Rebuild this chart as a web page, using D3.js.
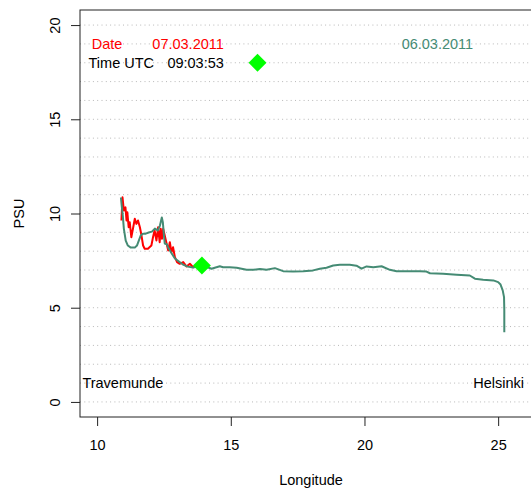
<!DOCTYPE html>
<html>
<head>
<meta charset="utf-8">
<script src="https://cdn.jsdelivr.net/npm/d3@7"></script>
<style>
  body { margin: 0; background: #fff; }
  text { font-family: "Liberation Sans", Arial, Helvetica, sans-serif; }
</style>
</head>
<body>
<svg width="531" height="490"></svg>
<script>
// salinity track, 06.03.2011 (full crossing Travemunde -> Helsinki)
let lonGreen = [10.89, 10.92, 10.96, 11.00, 11.07, 11.15, 11.26, 11.41, 11.49, 11.56, 11.63, 11.71,
  11.82, 11.93, 12.05, 12.16, 12.27, 12.35, 12.42, 12.46, 12.50, 12.53, 12.61, 12.68, 12.79, 12.91,
  13.06, 13.21, 13.39, 13.58, 13.77, 13.95, 14.28, 14.40, 14.59, 14.71, 14.96, 15.22, 15.59, 15.84,
  16.09, 16.34, 16.65, 16.96, 17.33, 17.71, 18.08, 18.33, 18.58, 18.83, 19.08, 19.45, 19.70, 19.89,
  20.08, 20.33, 20.64, 20.95, 21.20, 21.58, 22.07, 22.32, 22.45, 22.94, 23.45, 23.94, 24.13, 24.44,
  24.82, 25.00, 25.09, 25.17, 25.22, 25.23, 25.23];
let psuGreen = [10.85, 10.42, 9.89, 9.20, 8.56, 8.30, 8.19, 8.19, 8.30, 8.56, 8.83, 8.93,
  8.93, 8.99, 9.04, 9.20, 9.10, 9.36, 9.79, 9.52, 8.83, 8.41, 8.36, 8.14, 7.88, 7.61,
  7.45, 7.29, 7.18, 7.13, 7.18, 7.24, 7.07, 7.12, 7.20, 7.15, 7.15, 7.12, 7.01, 7.01,
  7.05, 7.01, 7.10, 6.94, 6.92, 6.94, 6.98, 7.07, 7.12, 7.24, 7.28, 7.28, 7.23, 7.07,
  7.19, 7.15, 7.20, 7.01, 6.94, 6.94, 6.94, 6.92, 6.83, 6.80, 6.75, 6.71, 6.54, 6.48,
  6.45, 6.36, 6.23, 5.92, 5.56, 4.85, 3.70];

// salinity track, 07.03.2011 (up to current position)
let lonRed = [10.91, 10.95, 11.00, 11.06, 11.10, 11.13, 11.18, 11.22, 11.28, 11.34, 11.41, 11.47,
  11.53, 11.60, 11.66, 11.72, 11.78, 11.90, 12.03, 12.09, 12.15, 12.22, 12.28, 12.34, 12.38, 12.43,
  12.47, 12.53, 12.60, 12.66, 12.72, 12.78, 12.84, 12.91, 12.99, 13.09, 13.22, 13.34, 13.47, 13.59,
  13.72, 13.84];
let psuRed = [9.63, 10.86, 10.16, 10.33, 9.63, 10.07, 9.27, 9.54, 8.74, 9.19, 9.72, 9.45,
  9.63, 9.27, 8.83, 8.30, 8.13, 8.13, 8.30, 8.74, 9.10, 8.57, 9.27, 8.48, 9.19, 8.66,
  9.19, 8.83, 8.39, 8.04, 8.48, 7.95, 8.21, 7.68, 7.42, 7.33, 7.42, 7.19, 7.33, 7.15,
  7.19, 7.12];

let currentPos = [13.92, 7.24];
let legendPos = [16.0, 18.0];

let xTicks = [10, 15, 20, 25];
let yTicks = [0, 5, 10, 15, 20];
let gridLevels = [0, 1, 2, 3, 4, 5, 6, 7, 8, 9, 10, 11, 12, 13, 14, 15, 16, 17, 18, 19, 20];

let colGreen = "#458B74",
    colRed = "#ff0000",
    colMark = "#00ff00";

let svg = d3.select("svg");

let x = d3.scaleLinear().domain([9.36, 26.64]).range([80, 542]);
let y = d3.scaleLinear().domain([-0.8, 20.8]).range([417, 10]);

// dotted grid
svg.append("g")
    .selectAll("line")
    .data(gridLevels)
    .enter().append("line")
    .attr("x1", x(9.36)).attr("x2", x(26.64))
    .attr("y1", d => y(d)).attr("y2", d => y(d))
    .attr("stroke", "#b8b8b8")
    .attr("stroke-dasharray", "1,3.3");

// axes
let xAxis = svg.append("g")
    .attr("transform", "translate(0," + y(-0.8) + ")")
    .call(d3.axisBottom(x).tickValues(xTicks).tickSize(9).tickPadding(14));
xAxis.select(".domain").remove();
xAxis.selectAll("text").attr("font-size", "14.5px").attr("font-family", null).attr("fill", "#000");
xAxis.selectAll("line").attr("stroke", "#222");

let yAxis = svg.append("g")
    .attr("transform", "translate(" + x(9.36) + ",0)")
    .call(d3.axisLeft(y).tickValues(yTicks).tickSize(9));
yAxis.select(".domain").remove();
yAxis.selectAll("line").attr("stroke", "#222");
yAxis.selectAll("text")
    .attr("x", null).attr("dy", null)
    .attr("transform", "translate(-20,0) rotate(-90)")
    .attr("text-anchor", "middle")
    .attr("font-size", "14.5px").attr("font-family", null).attr("fill", "#000");

// box
svg.append("rect")
    .attr("x", x(9.36)).attr("y", y(20.8))
    .attr("width", x(26.64) - x(9.36)).attr("height", y(-0.8) - y(20.8))
    .attr("fill", "none").attr("stroke", "#222");

// axis titles
svg.append("text")
    .attr("x", (x(9.36) + x(26.64)) / 2).attr("y", 485)
    .attr("text-anchor", "middle").attr("font-size", "14.5px")
    .text("Longitude");
svg.append("text")
    .attr("transform", "translate(23.5," + (y(-0.8) + y(20.8)) / 2 + ") rotate(-90)")
    .attr("text-anchor", "middle").attr("font-size", "14.5px")
    .text("PSU");

// tracks
let line = d3.line()
    .x(d => x(d[0]))
    .y(d => y(d[1]));

svg.append("path")
    .datum(d3.zip(lonRed, psuRed))
    .attr("d", line)
    .attr("fill", "none").attr("stroke", colRed).attr("stroke-width", 2)
    .attr("stroke-linejoin", "round");

svg.append("path")
    .datum(d3.zip(lonGreen, psuGreen))
    .attr("d", line)
    .attr("fill", "none").attr("stroke", colGreen).attr("stroke-width", 2)
    .attr("stroke-linejoin", "round");

// diamonds
let diamond = d3.symbol().type(d3.symbolSquare).size(160);
svg.append("g")
    .selectAll("path")
    .data([currentPos, legendPos])
    .enter().append("path")
    .attr("d", diamond)
    .attr("transform", d => "translate(" + x(d[0]) + "," + y(d[1]) + ") rotate(45)")
    .attr("fill", colMark);

// annotations
let labels = [
  {lon: 9.80, psu: 19, text: "Date", color: colRed, anchor: "start"},
  {lon: 14.74, psu: 19, text: "07.03.2011", color: colRed, anchor: "end"},
  {lon: 21.39, psu: 19, text: "06.03.2011", color: colGreen, anchor: "start"},
  {lon: 9.68, psu: 18, text: "Time UTC", color: "#000", anchor: "start"},
  {lon: 14.74, psu: 18, text: "09:03:53", color: "#000", anchor: "end"},
  {lon: 9.45, psu: 1, text: "Travemunde", color: "#000", anchor: "start"},
  {lon: 25.97, psu: 1, text: "Helsinki", color: "#000", anchor: "end"}
];

svg.append("g")
    .selectAll("text")
    .data(labels)
    .enter().append("text")
    .attr("x", d => x(d.lon))
    .attr("y", d => y(d.psu))
    .attr("dy", "0.35em")
    .attr("text-anchor", d => d.anchor)
    .attr("font-size", "14.5px")
    .attr("fill", d => d.color)
    .text(d => d.text);
</script>
</body>
</html>
